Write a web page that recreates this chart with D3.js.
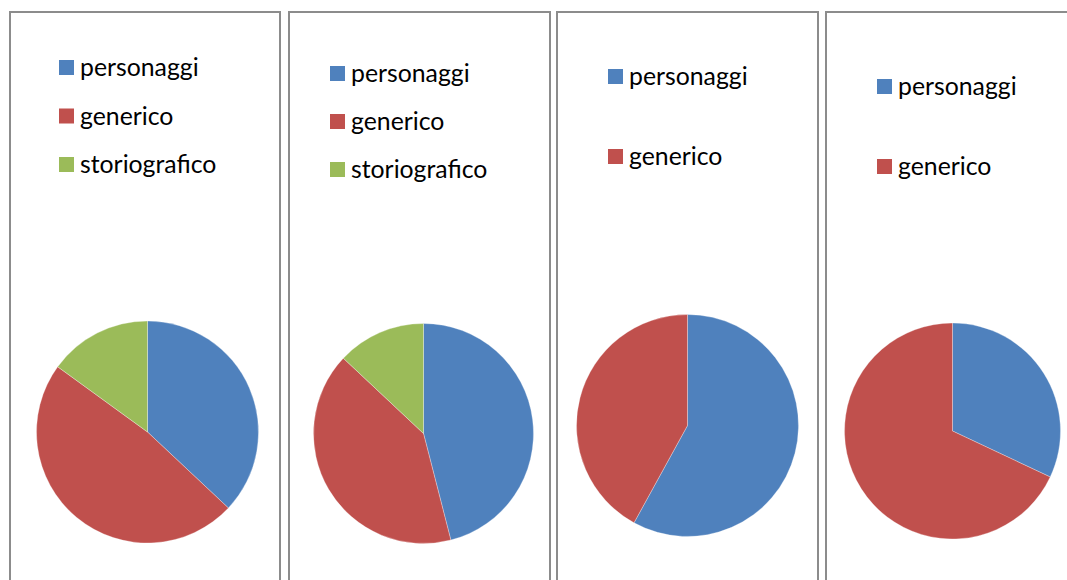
<!DOCTYPE html>
<html>
<head>
<meta charset="utf-8">
<script src="https://cdn.jsdelivr.net/npm/d3@7"></script>
<style>
	body { margin: 0; background: #fff; }
	svg { display: block; }
	.legend-label { font-family: Lato, "Open Sans", sans-serif; fill: #000; }
</style>
</head>
<body>
<div id="chart"></div>
<script>
const categories = ["personaggi", "generico", "storiografico"];
const sliceColors = ["#4f81bd", "#c0504d", "#9bbb59"];

// share of each category
const chart1Values = [37, 48, 15];
const chart2Values = [46, 41, 13];
const chart3Values = [58, 42];
const chart4Values = [32, 68];

const size = { w: 1067, h: 580 };

const panels = [
	{ values: chart1Values, x: 10, w: 270, cx: 147.5, cy: 432, r: 111, lx: 59, ly: 60, step: 48.5 },
	{ values: chart2Values, x: 289, w: 261, cx: 423.5, cy: 433.5, r: 110, lx: 330, ly: 66, step: 48 },
	{ values: chart3Values, x: 557, w: 261, cx: 687.5, cy: 425.5, r: 111, lx: 608, ly: 69, step: 80 },
	{ values: chart4Values, x: 826, w: 260, cx: 952.5, cy: 431, r: 108, lx: 877, ly: 79, step: 80 },
];

const svg = d3
	.select("#chart")
	.append("svg")
	.attr("width", size.w)
	.attr("height", size.h);

const color = d3.scaleOrdinal().domain(categories).range(sliceColors);

const pie = d3
	.pie()
	.sort(null)
	.value((d) => d.value);

panels.forEach((p) => {
	const data = p.values.map((v, i) => ({ name: categories[i], value: v }));
	const g = svg.append("g").classed("panel", true);

	g.append("rect")
		.attr("x", p.x)
		.attr("y", 12)
		.attr("width", p.w)
		.attr("height", 620)
		.attr("fill", "#fff")
		.attr("stroke", "#8c8c8c")
		.attr("stroke-width", 2);

	const arc = d3.arc().innerRadius(0).outerRadius(p.r);

	g.append("g")
		.attr("transform", `translate(${p.cx}, ${p.cy})`)
		.selectAll("path")
		.data(pie(data))
		.join("path")
		.attr("d", arc)
		.attr("fill", (d) => color(d.data.name))
		.attr("stroke", "#fff")
		.attr("stroke-width", 0.5)
		.attr("stroke-opacity", 0.6);

	const legend = g
		.append("g")
		.selectAll("g")
		.data(data)
		.join("g")
		.attr("transform", (d, i) => `translate(${p.lx}, ${p.ly + i * p.step})`);

	legend
		.append("rect")
		.attr("width", 15)
		.attr("height", 15)
		.attr("fill", (d) => color(d.name));

	legend
		.append("text")
		.classed("legend-label", true)
		.attr("x", 21)
		.attr("y", 16)
		.style("font-size", "24.8px")
		.text((d) => d.name);
});
</script>
</body>
</html>
